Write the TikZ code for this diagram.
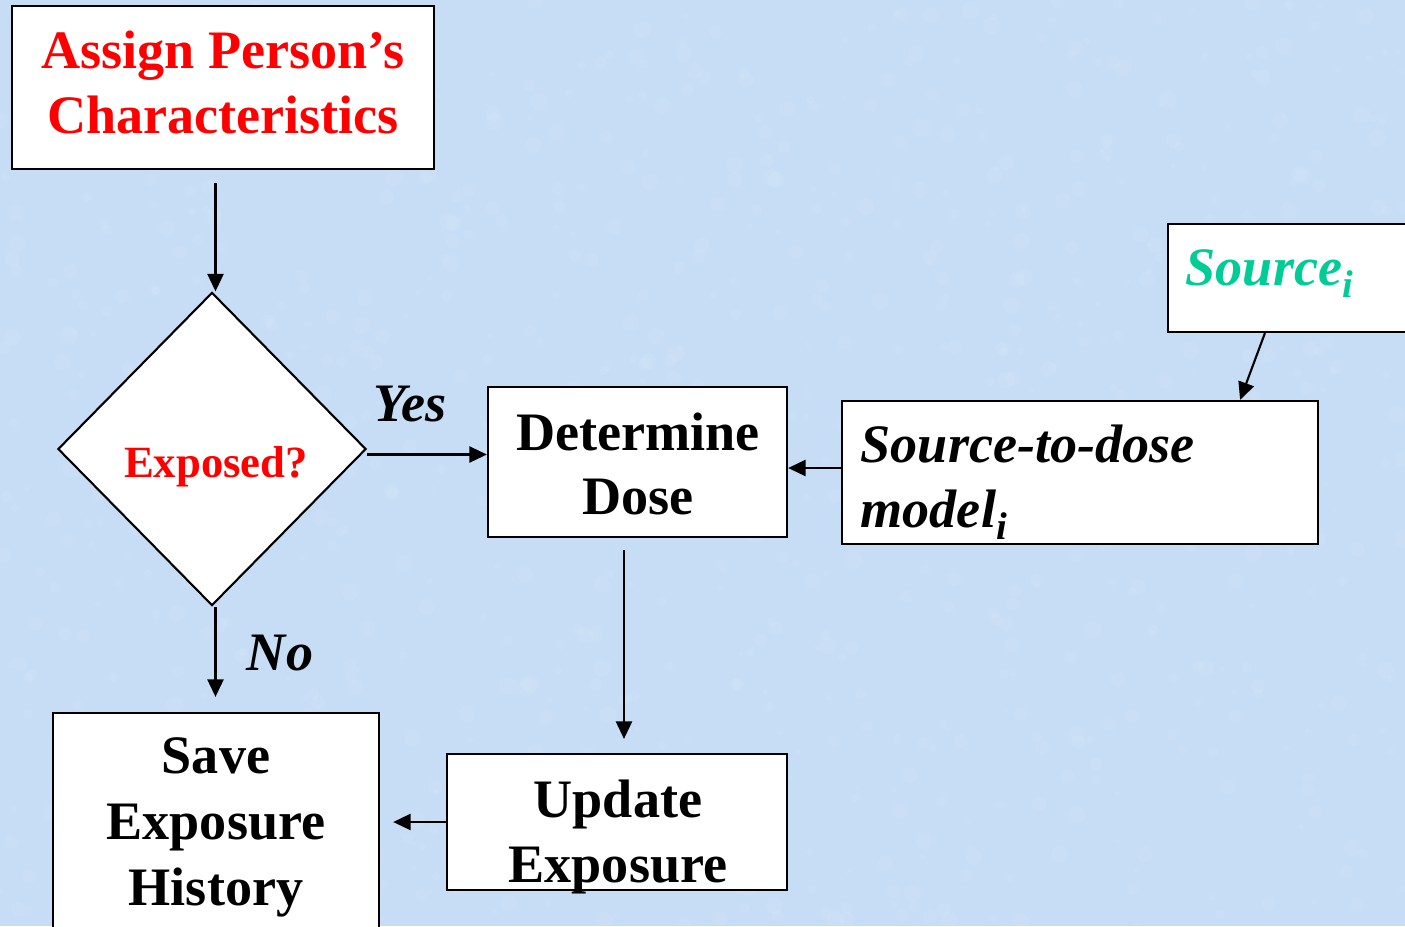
\documentclass[tikz,border=0pt]{standalone}
\usepackage{fontspec}
\setmainfont{Liberation Serif}
\usetikzlibrary{arrows.meta,shapes.geometric,calc}
\definecolor{bg}{RGB}{199,221,246}
\definecolor{srcgreen}{RGB}{0,204,150}
\definecolor{txtred}{RGB}{255,0,0}
\newcommand{\bigtxt}{\fontsize{15.4pt}{18pt}\selectfont\bfseries}
\newcommand{\subi}{\raisebox{-3.6pt}{\fontsize{11pt}{11pt}\selectfont\bfseries\itshape i}}
\begin{document}
\begin{tikzpicture}[x=0.01cm,y=-0.01cm,
  box/.style={draw=black,line width=0.6pt,fill=white,inner sep=0pt,rectangle},
  lbl/.style={anchor=base,inner sep=0pt,font=\bigtxt},
  arr/.style={draw=black,line width=0.6pt,-{Triangle[length=5pt,width=4.6pt]}}]
\useasboundingbox (0,0) rectangle (1405,926);
\clip (0,0) rectangle (1405,926);
\fill[bg] (0,0) rectangle (1405,926);
% faint mottled background texture
\pgfmathsetseed{7}
\foreach \k in {1,...,900}{
  \pgfmathsetmacro{\px}{rnd*1405}
  \pgfmathsetmacro{\py}{rnd*926}
  \pgfmathsetmacro{\pr}{2+rnd*7}
  \fill[white,opacity=0.07] (\px,\py) circle[radius=\pr*0.01cm];
}

% boxes
\node[box,minimum width=4.22cm,minimum height=1.63cm] (assign) at (223,87.5) {};
\node[box,diamond,minimum width=3.08cm,minimum height=3.13cm] (dia) at (212,449) {};
\node[box,minimum width=2.99cm,minimum height=1.50cm] (det) at (637.5,462) {};
\node[box,minimum width=4.76cm,minimum height=1.43cm] (s2d) at (1080,472.5) {};
\node[box,minimum width=2.52cm,minimum height=1.08cm] (src) at (1294,278) {};
\node[box,minimum width=3.40cm,minimum height=1.36cm] (upd) at (617,822) {};
\node[box,minimum width=3.26cm,minimum height=2.47cm] (save) at (216,836.5) {};

% texts
\node[lbl,text=txtred] (t1) at (223,68) {Assign Person’s};
\node[lbl,text=txtred] (t2) at (223,133) {Characteristics};
\node[lbl,text=txtred,font=\fontsize{12.7pt}{14pt}\selectfont\bfseries] (t3) at (216,477) {Exposed?};
\node[lbl,font=\bigtxt\itshape] (yes) at (410,421) {Yes};
\node[lbl,font=\bigtxt\itshape] (no) at (280,670) {No};
\node[lbl] (t4) at (638,450) {Determine};
\node[lbl] (t5) at (638,514) {Dose};
\node[lbl,anchor=base west,font=\bigtxt\itshape] (t6) at (860,462) {Source-to-dose};
\node[lbl,anchor=base west,font=\bigtxt\itshape] (t7) at (860,527) {model\subi};
\node[lbl,anchor=base west,font=\bigtxt\itshape,text=srcgreen] (t8) at (1185,285) {Source\subi};
\node[lbl] (t9) at (618,817) {Update};
\node[lbl] (t10) at (618,882) {Exposure};
\node[lbl] (t11) at (216,773) {Save};
\node[lbl] (t12) at (216,839) {Exposure};
\node[lbl] (t13) at (216,905) {History};

% connectors
\draw[arr,shorten <=0.13cm] ([xshift=0.035cm]assign.south -| dia.north) -- ([xshift=0.035cm]dia.north);
\draw[arr,shorten >=0.15cm] ([xshift=0.035cm]dia.south) -- ([xshift=0.035cm]dia.south |- save.north);
\draw[arr] ([yshift=-0.055cm]dia.east) -- ([yshift=-0.055cm]dia.east -| det.west);
\draw[arr] ([yshift=0.045cm]s2d.west) -- ([yshift=0.045cm]s2d.west -| det.east);
\draw[arr] ([xshift=0.98cm]src.south west) -- ([xshift=1.60cm]s2d.north);
\draw[arr,shorten <=0.12cm,shorten >=0.14cm] ([xshift=-0.135cm]det.south) -- ([xshift=-0.135cm]det.south |- upd.north);
\draw[arr,shorten >=0.13cm] (upd.west) -- (upd.west -| save.east);
\end{tikzpicture}
\end{document}
